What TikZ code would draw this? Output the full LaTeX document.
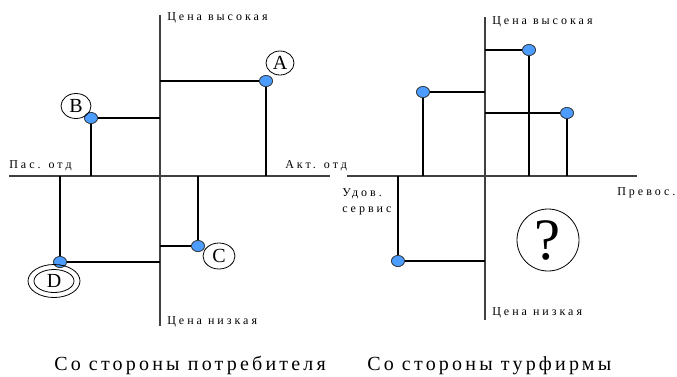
\documentclass[tikz,border=0pt]{standalone}
\usepackage{fontspec}
\setmainfont{Liberation Serif}
\newfontfamily\smallsp[LetterSpace=25]{Liberation Serif}
\newfontfamily\bigsp[LetterSpace=16]{Liberation Serif}
\usetikzlibrary{shapes.geometric}
\begin{document}
\begin{tikzpicture}[x=0.75pt,y=-0.75pt,
  axis/.style={draw=black!75,line width=1.1pt},
  seg/.style={draw=black,line width=0.9pt},
  dot/.style={ellipse,draw=black!80,fill=blue!55!cyan!70!white,line width=0.5pt,minimum width=13pt*0.75,minimum height=11pt*0.75,inner sep=0pt},
  lab/.style={ellipse,draw=black,line width=0.6pt,inner sep=0pt,font=\fontsize{15}{15}\selectfont},
  axlab/.style={anchor=west,inner sep=0pt,font=\smallsp\fontsize{9}{11.5}\selectfont},
  captext/.style={anchor=base west,inner sep=0pt,font=\bigsp\fontsize{15}{18}\selectfont}]
\useasboundingbox (0,0) rectangle (677,376);
% ---------- left diagram ----------
\coordinate (LT) at (160,15);
\coordinate (LB) at (160,326);
\coordinate (LL) at (9,176);
\coordinate (LR) at (330,176);
\coordinate (aY) at (160,81);
\coordinate (aX) at (266,176);
\coordinate (bY) at (160,118);
\coordinate (bX) at (91,176);
\coordinate (cY) at (160,246);
\coordinate (cX) at (198,176);
\coordinate (dY) at (160,262);
\coordinate (dX) at (60,176);
\draw[axis] (LT) -- (LB);
\draw[axis] (LL) -- (LR);
\node[dot] (A) at (266,81) {};
\node[dot] (B) at (91,118) {};
\node[dot] (C) at (198,246) {};
\node[dot] (D) at (60,262) {};
\draw[seg] (aY) -- (A) -- (aX);
\draw[seg] (bY) -- (B) -- (bX);
\draw[seg] (cY) -- (C) -- (cX);
\draw[seg] (dY) -- (D) -- (dX);
\node[dot] at (A) {};
\node[dot] at (B) {};
\node[dot] at (C) {};
\node[dot] at (D) {};
\node[lab,minimum width=28*0.75pt,minimum height=24*0.75pt] (la) at (280,63) {A};
\node[lab,minimum width=30*0.75pt,minimum height=25*0.75pt] (lb) at (76,106) {B};
\node[lab,minimum width=32*0.75pt,minimum height=26*0.75pt] (lc) at (219,256) {C};
\node[lab,minimum width=52*0.75pt,minimum height=33*0.75pt] (ldo) at (54,281) {};
\node[lab,minimum width=40*0.75pt,minimum height=23*0.75pt] (ld) at (54,281) {D};
\node[axlab] (lhi) at (167,18) {Цена высокая};
\node[axlab] (lpas) at (9,166) {Пас. отд};
\node[axlab] (lakt) at (285,166) {Акт. отд};
\node[axlab] (llo) at (167,322) {Цена низкая};
% ---------- right diagram ----------
\coordinate (RT) at (485,17);
\coordinate (RB) at (485,320);
\coordinate (RL) at (347,176);
\coordinate (RR) at (637,176);
\coordinate (p1Y) at (485,50);
\coordinate (p1X) at (529,176);
\coordinate (p2Y) at (485,92);
\coordinate (p2X) at (423,176);
\coordinate (p3Y) at (485,113);
\coordinate (p3X) at (567,176);
\coordinate (p4Y) at (485,261);
\coordinate (p4X) at (398,176);
\draw[axis] (RT) -- (RB);
\draw[axis] (RL) -- (RR);
\node[dot] (P1) at (529,50) {};
\node[dot] (P2) at (423,92) {};
\node[dot] (P3) at (567,113) {};
\node[dot] (P4) at (398,261) {};
\draw[seg] (p1Y) -- (P1) -- (p1X);
\draw[seg] (p2Y) -- (P2) -- (p2X);
\draw[seg] (p3Y) -- (P3) -- (p3X);
\draw[seg] (p4Y) -- (P4) -- (p4X);
\node[dot] at (P1) {};
\node[dot] at (P2) {};
\node[dot] at (P3) {};
\node[dot] at (P4) {};
\node[circle,draw=black,line width=0.6pt,minimum size=62*0.75pt,inner sep=0pt,font=\fontsize{44}{44}\selectfont] (q) at (548,240) {?};
\node[axlab] (rhi) at (492,22) {Цена высокая};
\node[axlab,align=left] (rud) at (342,202) {Удов.\\сервис};
\node[axlab] (rpr) at (617,193) {Превос.};
\node[axlab] (rlo) at (492,313) {Цена низкая};
% ---------- captions ----------
\node[captext] (c1) at (54,370) {Со стороны потребителя};
\node[captext] (c2) at (367,370) {Со стороны турфирмы};
\end{tikzpicture}
\end{document}
